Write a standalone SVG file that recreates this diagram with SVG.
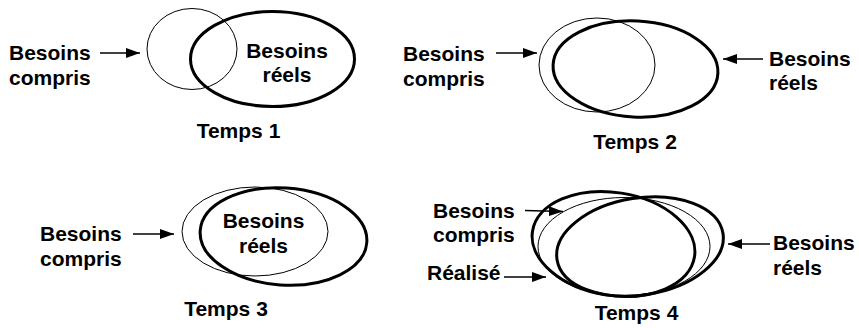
<svg xmlns="http://www.w3.org/2000/svg" width="859" height="328" viewBox="0 0 859 328">
  <defs>
    <marker id="arrow" markerUnits="userSpaceOnUse" markerWidth="15" markerHeight="11" refX="14" refY="5" orient="auto">
      <path d="M0,0 L14,5 L0,10 Z" fill="#000"/>
    </marker>
    <style>
      .thin { fill: none; stroke: #000; stroke-width: 1; }
      .thick { fill: none; stroke: #000; stroke-width: 3; }
      .lbl { font-family: "Liberation Sans", Arial, Helvetica, sans-serif; font-weight: bold; font-size: 21px; fill: #000; }
      .mid { text-anchor: middle; }
      .conn { stroke: #000; stroke-width: 1.3; fill: none; marker-end: url(#arrow); }
    </style>
  </defs>

  <rect width="859" height="328" fill="#fff"/>

  <!-- Temps 1 -->
  <g id="t1-compris">
    <ellipse class="thin" cx="192" cy="49" rx="45" ry="40.5"/>
  </g>
  <g id="t1-reels">
    <ellipse class="thick" cx="272.5" cy="59" rx="82" ry="47.5"/>
    <text class="lbl mid" x="287" y="58">Besoins</text>
    <text class="lbl mid" x="287" y="82">réels</text>
  </g>
  <g id="t1-label-compris">
    <text class="lbl" x="9" y="60">Besoins</text>
    <text class="lbl" x="9" y="85">compris</text>
  </g>
  <g id="t1-title">
    <text class="lbl mid" x="238.5" y="138">Temps 1</text>
  </g>

  <!-- Temps 2 -->
  <g id="t2-compris">
    <ellipse class="thin" cx="597" cy="65" rx="58" ry="47"/>
  </g>
  <g id="t2-reels">
    <ellipse class="thick" cx="635.5" cy="69" rx="82.5" ry="48" transform="rotate(3 635.5 69)"/>
  </g>
  <g id="t2-label-compris">
    <text class="lbl" x="403" y="61">Besoins</text>
    <text class="lbl" x="403" y="86">compris</text>
  </g>
  <g id="t2-label-reels">
    <text class="lbl" x="769" y="66">Besoins</text>
    <text class="lbl" x="769" y="90">réels</text>
  </g>
  <g id="t2-title">
    <text class="lbl mid" x="635" y="149">Temps 2</text>
  </g>

  <!-- Temps 3 -->
  <g id="t3-compris">
    <ellipse class="thin" cx="255" cy="231.5" rx="73" ry="44.5"/>
  </g>
  <g id="t3-reels">
    <ellipse class="thick" cx="283.5" cy="236.5" rx="83.5" ry="48.5" transform="rotate(4 283.5 236.5)"/>
    <text class="lbl mid" x="263.5" y="228">Besoins</text>
    <text class="lbl mid" x="263.5" y="253">réels</text>
  </g>
  <g id="t3-label-compris">
    <text class="lbl" x="40" y="241">Besoins</text>
    <text class="lbl" x="40" y="265.5">compris</text>
  </g>
  <g id="t3-title">
    <text class="lbl mid" x="226" y="316">Temps 3</text>
  </g>

  <!-- Temps 4 -->
  <g id="t4-realise">
    <ellipse class="thick" cx="613.5" cy="244" rx="82" ry="51.5" transform="rotate(9 613.5 244)"/>
  </g>
  <g id="t4-compris">
    <ellipse class="thin" cx="624" cy="246.5" rx="86" ry="49"/>
  </g>
  <g id="t4-reels">
    <ellipse class="thick" cx="640" cy="246.5" rx="84" ry="48.5" transform="rotate(-9 640 246.5)"/>
  </g>
  <g id="t4-label-compris">
    <text class="lbl" x="433" y="218">Besoins</text>
    <text class="lbl" x="433" y="242">compris</text>
  </g>
  <g id="t4-label-realise">
    <text class="lbl" x="427" y="280">Réalisé</text>
  </g>
  <g id="t4-label-reels">
    <text class="lbl" x="773" y="250">Besoins</text>
    <text class="lbl" x="773" y="275">réels</text>
  </g>
  <g id="t4-title">
    <text class="lbl mid" x="636.5" y="320">Temps 4</text>
  </g>

  <!-- Connectors -->
  <g id="connectors">
    <line class="conn" x1="100" y1="53" x2="140" y2="53"/>
    <line class="conn" x1="496" y1="53" x2="537" y2="53"/>
    <line class="conn" x1="763" y1="59" x2="723" y2="59"/>
    <line class="conn" x1="133" y1="234" x2="174" y2="234"/>
    <line class="conn" x1="525" y1="210.5" x2="563" y2="211.5"/>
    <line class="conn" x1="504" y1="277" x2="546" y2="277"/>
    <line class="conn" x1="770" y1="244" x2="728" y2="244"/>
  </g>
</svg>
